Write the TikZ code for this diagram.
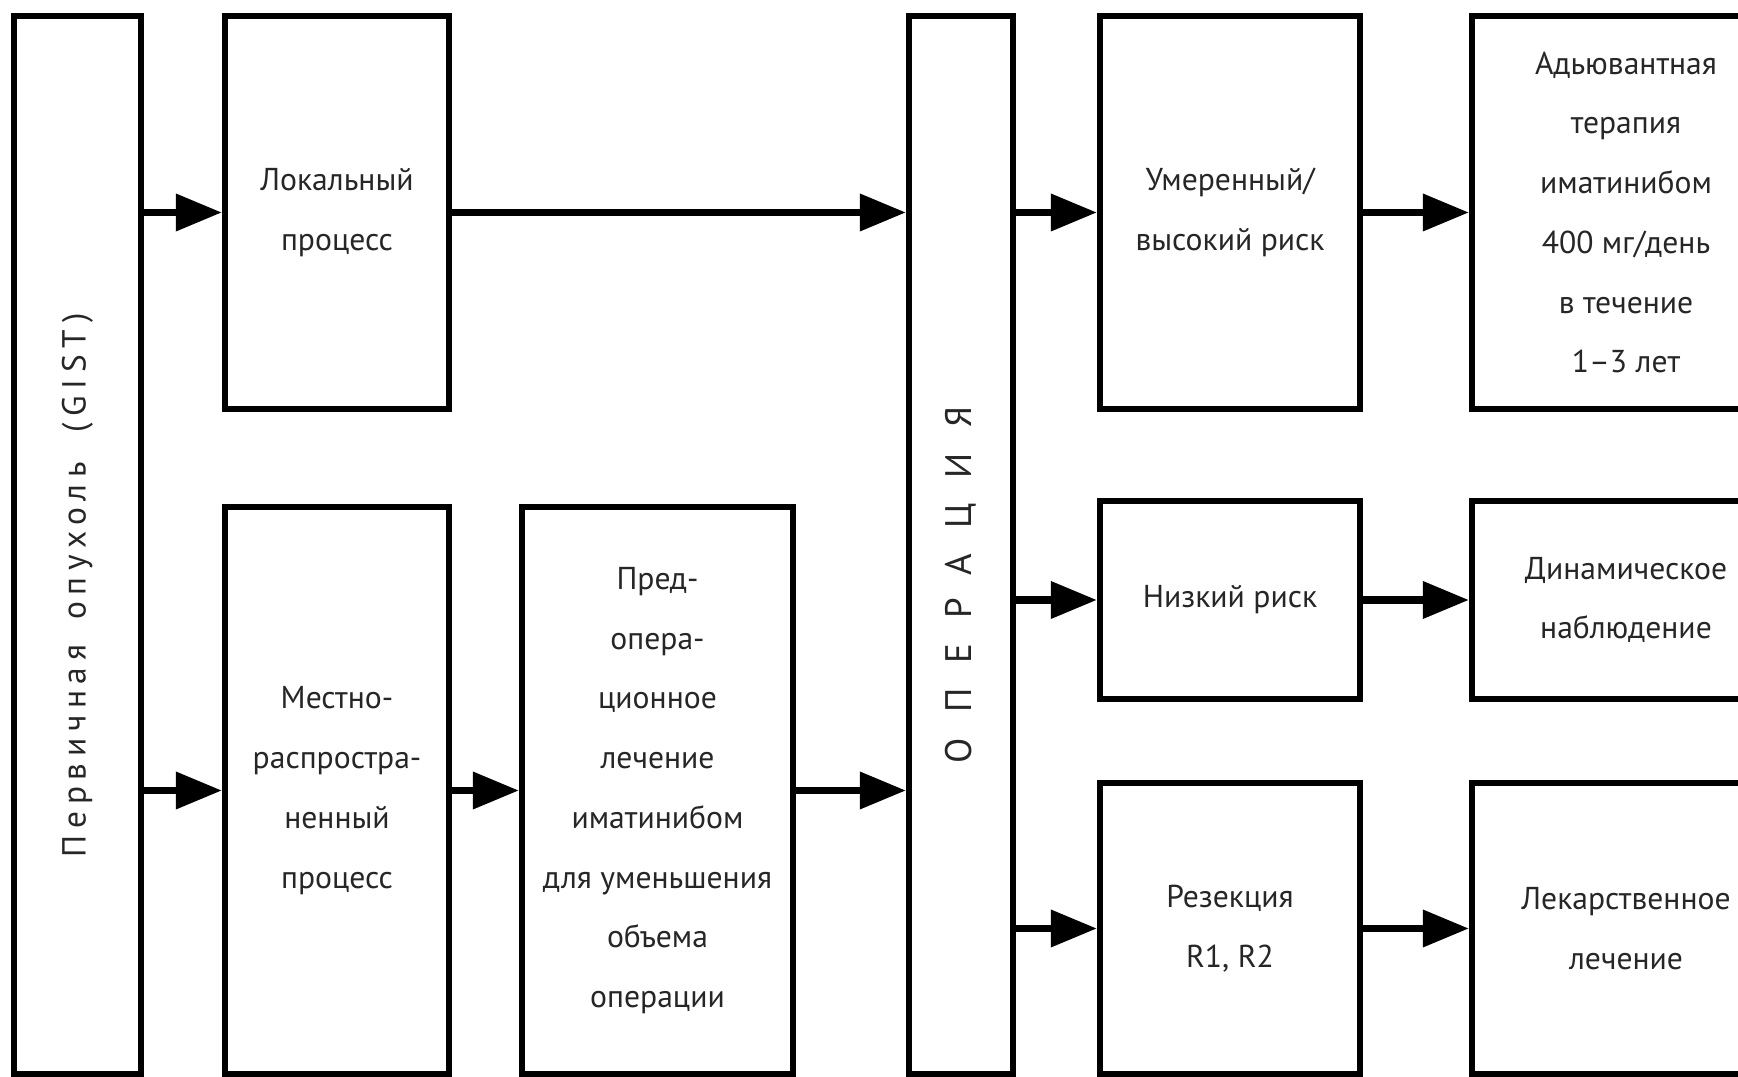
\documentclass[tikz,border=0pt]{standalone}
\usepackage{fontspec}
\setmainfont{PT Sans}
\newfontfamily\operfont[LetterSpace=68]{PT Sans}
\newfontfamily\primfont[LetterSpace=20]{PT Sans}
\usetikzlibrary{arrows.meta}

\tikzset{
  blok/.style={draw, line width=1.8pt, align=center, inner sep=0pt,
    text=black!85, font=\fontsize{9}{17}\selectfont},
  arr/.style={line width=2pt, -{Triangle[length=4.6mm,width=3.6mm]}},
}

\begin{document}
\begin{tikzpicture}
            % Keep the page to the size of the scheme
            \clip (0,0) rectangle (17.38,10.77);

            % Draw the boxes
            \node[blok, minimum width=1.27cm, minimum height=10.58cm] (prim) at (0.775,5.32) {};
            \node[blok, minimum width=2.24cm, minimum height=3.93cm] (lok) at (3.37,8.645) {Локальный\\процесс};
            \node[blok, minimum width=2.24cm, minimum height=5.67cm] (mest) at (3.37,2.865) {Местно-\\распростра-\\ненный\\процесс};
            \node[blok, minimum width=2.71cm, minimum height=5.67cm] (pred) at (6.575,2.865) {Пред-\\опера-\\ционное\\лечение\\иматинибом\\для уменьшения\\объема\\операции};
            \node[blok, minimum width=1.04cm, minimum height=10.58cm] (oper) at (9.61,5.32) {};
            \node[blok, minimum width=2.60cm, minimum height=3.93cm] (umer) at (12.30,8.645) {Умеренный/\\высокий риск};
            \node[blok, minimum width=2.60cm, minimum height=1.98cm] (nizk) at (12.30,4.77) {Низкий риск};
            \node[blok, minimum width=2.60cm, minimum height=2.91cm] (rez) at (12.30,1.485) {Резекция\\R1, R2};
            \node[blok, minimum width=3.08cm, minimum height=3.93cm] (adj) at (16.26,8.645) {Адьювантная\\терапия\\иматинибом\\400 мг/день\\в течение\\1--3 лет};
            \node[blok, minimum width=3.08cm, minimum height=1.98cm] (din) at (16.26,4.77) {Динамическое\\наблюдение};
            \node[blok, minimum width=3.08cm, minimum height=2.91cm] (lek) at (16.26,1.485) {Лекарственное\\лечение};

            % Vertical labels
            \node[rotate=90, text=black!85, font=\primfont\fontsize{9.5}{12}\selectfont] (primtxt) at (0.775,4.92)
                 {Первичная\hspace{0.25cm}опухоль\hspace{0.3cm}(GIST)};
            \node[rotate=90, text=black!85, font=\operfont\fontsize{10.5}{12}\selectfont] (opertxt) at (9.61,4.92) {ОПЕРАЦИЯ};

            % Arrows
            \draw[arr] (prim.east |- lok.west) -- (lok.west);
            \draw[arr] (lok.east) -- (lok.east -| oper.west);
            \draw[arr] (oper.east |- umer.west) -- (umer.west);
            \draw[arr] (umer.east) -- (adj.west);
            \draw[arr] (prim.east |- mest.west) -- (mest.west);
            \draw[arr] (mest.east) -- (pred.west);
            \draw[arr] (pred.east) -- (pred.east -| oper.west);
            \draw[arr] (oper.east |- nizk.west) -- (nizk.west);
            \draw[arr] (nizk.east) -- (din.west);
            \draw[arr] (oper.east |- rez.west) -- (rez.west);
            \draw[arr] (rez.east) -- (lek.west);
        \end{tikzpicture}
\end{document}
